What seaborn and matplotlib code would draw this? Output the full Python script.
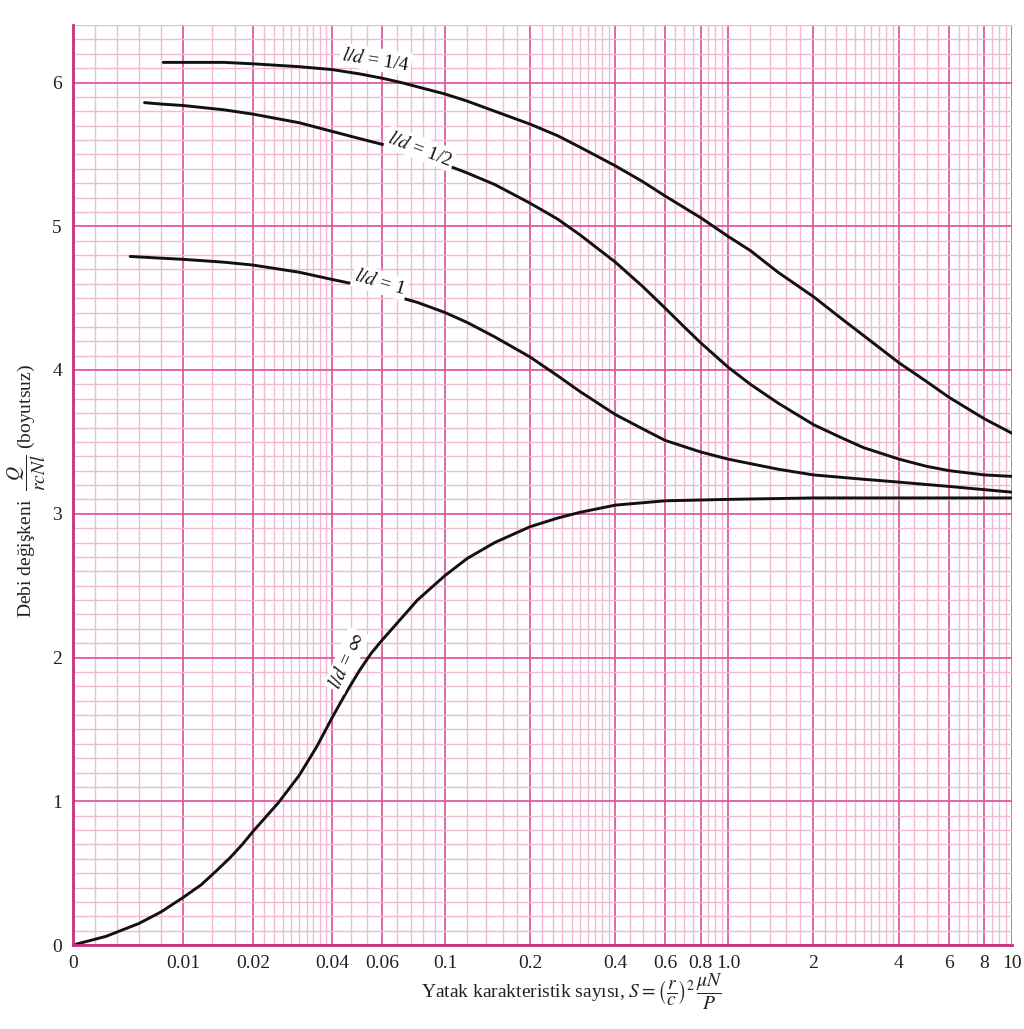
import matplotlib

matplotlib.use("Agg")

import numpy as np
import pandas as pd
import matplotlib.pyplot as plt
import seaborn as sns

# --- data: S (bearing characteristic number) vs Q/(rcNl) ---
s_quarter = [0.0082, 0.01, 0.015, 0.02, 0.03, 0.04, 0.05, 0.06, 0.07, 0.08, 0.1, 0.12, 0.15, 0.2, 0.25, 0.3,
             0.4, 0.5, 0.6, 0.8, 1.0, 1.2, 1.5, 2.0, 2.5, 3.0, 4.0, 5.0, 6.0, 8.0, 10.0]
q_quarter = [6.14, 6.14, 6.14, 6.13, 6.11, 6.09, 6.06, 6.03, 6.00, 5.97, 5.92, 5.87, 5.80, 5.71, 5.63, 5.55,
             5.42, 5.31, 5.21, 5.06, 4.93, 4.83, 4.68, 4.51, 4.36, 4.24, 4.05, 3.92, 3.81, 3.66, 3.56]

s_half = [0.0065, 0.008, 0.01, 0.015, 0.02, 0.03, 0.04, 0.05, 0.06, 0.08, 0.1, 0.12, 0.15, 0.2, 0.25, 0.3,
          0.4, 0.5, 0.6, 0.7, 0.8, 1.0, 1.2, 1.5, 2.0, 2.5, 3.0, 4.0, 5.0, 6.0, 8.0, 10.0]
q_half = [5.86, 5.85, 5.84, 5.81, 5.78, 5.72, 5.66, 5.61, 5.57, 5.50, 5.43, 5.37, 5.29, 5.16, 5.05, 4.94,
          4.75, 4.58, 4.43, 4.30, 4.19, 4.02, 3.90, 3.77, 3.62, 3.53, 3.46, 3.38, 3.33, 3.30, 3.27, 3.26]

s_one = [0.0052, 0.0075, 0.01, 0.015, 0.02, 0.03, 0.04, 0.05, 0.06, 0.08, 0.1, 0.12, 0.15, 0.2, 0.25, 0.3,
         0.4, 0.5, 0.6, 0.8, 1.0, 1.5, 2.0, 3.0, 4.0, 6.0, 10.0]
q_one = [4.79, 4.78, 4.77, 4.75, 4.73, 4.68, 4.63, 4.59, 4.54, 4.47, 4.40, 4.33, 4.23, 4.09, 3.96, 3.85,
         3.69, 3.59, 3.51, 3.43, 3.38, 3.31, 3.27, 3.24, 3.22, 3.19, 3.15]

s_inf = [0.0, 0.001, 0.002, 0.003, 0.004, 0.005, 0.006, 0.007, 0.008, 0.009, 0.01, 0.012, 0.014, 0.016,
         0.018, 0.02, 0.025, 0.03, 0.035, 0.04, 0.045, 0.05, 0.055, 0.06, 0.07, 0.08, 0.09, 0.1, 0.12,
         0.15, 0.2, 0.25, 0.3, 0.4, 0.6, 1.0, 2.0, 10.0]
q_inf = [0.0, 0.02, 0.04, 0.06, 0.09, 0.12, 0.15, 0.19, 0.23, 0.28, 0.33, 0.42, 0.52, 0.61,
         0.70, 0.79, 0.99, 1.18, 1.38, 1.58, 1.76, 1.91, 2.03, 2.12, 2.27, 2.40, 2.49, 2.57, 2.69,
         2.80, 2.91, 2.97, 3.01, 3.06, 3.09, 3.10, 3.11, 3.11]

x_major = [0, 0.01, 0.02, 0.04, 0.06, 0.1, 0.2, 0.4, 0.6, 0.8, 1.0, 2, 4, 6, 8, 10]
x_major_labels = ["0", "0.01", "0.02", "0.04", "0.06", "0.1", "0.2", "0.4", "0.6", "0.8", "1.0", "2", "4", "6", "8", "10"]

# The chart's S axis: linear from 0 to 0.01, then (distorted) logarithmic.
SCALE_S = np.log10([0.01, 0.02, 0.04, 0.1, 1.0, 10.0])
SCALE_P = np.array([110, 180, 259, 372, 655, 939]) / 939.0


def s_forward(s):
    s = np.asarray(s, dtype=float)
    lg = np.log10(np.clip(s, 1e-9, None))
    p = np.interp(lg, SCALE_S, SCALE_P)
    slope = (SCALE_P[-1] - SCALE_P[-2]) / (SCALE_S[-1] - SCALE_S[-2])
    p = np.where(lg > SCALE_S[-1], SCALE_P[-1] + (lg - SCALE_S[-1]) * slope, p)
    return np.where(s < 0.01, s / 0.01 * SCALE_P[0], p)


def s_inverse(p):
    p = np.asarray(p, dtype=float)
    lg = np.interp(p, SCALE_P, SCALE_S)
    slope = (SCALE_P[-1] - SCALE_P[-2]) / (SCALE_S[-1] - SCALE_S[-2])
    lg = np.where(p > SCALE_P[-1], SCALE_S[-1] + (p - SCALE_P[-1]) / slope, lg)
    return np.where(p < SCALE_P[0], p / SCALE_P[0] * 0.01, 10 ** lg)


def minor_ticks():
    parts = [
        np.arange(0.002, 0.0099, 0.002),
        [0.01333, 0.01667],
        np.arange(0.022, 0.0399, 0.002),
        [0.04667, 0.05333],
        [0.068, 0.076, 0.084, 0.092],
        np.arange(0.12, 0.399, 0.02),
        np.arange(0.45, 0.999, 0.05),
        np.arange(1.2, 3.99, 0.2),
        np.arange(4.5, 9.99, 0.5),
    ]
    return np.concatenate([np.asarray(p, dtype=float) for p in parts])


def main() -> None:
    sns.set_theme(style="white")
    plt.rcParams["font.family"] = ["Liberation Serif", "DejaVu Serif"]
    plt.rcParams["mathtext.fontset"] = "stix"

    major_c = "#de5b9e"
    minor_c = "#f2b9d3"
    spine_c = "#c8307f"

    fig = plt.figure(figsize=(10.24, 10.29), dpi=100)
    ax = fig.add_axes([73 / 1024, 1 - 945 / 1029, 939 / 1024, 920 / 1029])
    ax.set_xscale("function", functions=(s_forward, s_inverse))

    curves = pd.concat(
        [
            pd.DataFrame({"S": s_quarter, "Q": q_quarter, "ld": "1/4"}),
            pd.DataFrame({"S": s_half, "Q": q_half, "ld": "1/2"}),
            pd.DataFrame({"S": s_one, "Q": q_one, "ld": "1"}),
            pd.DataFrame({"S": s_inf, "Q": q_inf, "ld": "inf"}),
        ],
        ignore_index=True,
    )
    for _, grp in curves.groupby("ld", sort=False):
        line = sns.lineplot(data=grp, x="S", y="Q", color="#111111", linewidth=2.1,
                            estimator=None, sort=False, ax=ax)
    for ln in ax.get_lines():
        ln.set_solid_joinstyle("round")
        ln.set_solid_capstyle("round")

    ax.set_xlim(0, 10)
    ax.set_ylim(0, 6.4)

    ax.set_xticks(x_major)
    ax.set_xticklabels(x_major_labels)
    ax.set_xticks(minor_ticks(), minor=True)
    ax.set_yticks(np.arange(0, 7, 1))
    ax.set_yticks(np.arange(0.1, 6.45, 0.1), minor=True)
    ax.tick_params(which="both", length=0, labelsize=14, colors="#222222")
    ax.tick_params(axis="x", pad=7)
    ax.tick_params(axis="y", pad=8)

    ax.grid(which="minor", color=minor_c, linewidth=1.0)
    ax.grid(which="major", color=major_c, linewidth=1.3)
    ax.set_axisbelow(True)
    ax.axhline(6.4, color=minor_c, linewidth=1.2, zorder=0.5)

    for side in ("top", "right"):
        ax.spines[side].set_visible(False)
    for side in ("left", "bottom"):
        ax.spines[side].set_color(spine_c)
        ax.spines[side].set_linewidth(2.0)

    ax.set_xlabel("")
    ax.set_ylabel("")

    box = dict(facecolor="white", edgecolor="none", pad=1.5)
    lbl = dict(fontsize=14, ha="center", va="center", rotation_mode="anchor", bbox=box, color="#111111")
    ax.text(0.057, 6.16, r"$l/d$ = 1/4", rotation=-9, **lbl)
    ax.text(0.082, 5.54, r"$l/d$ = 1/2", rotation=-21, **lbl)
    ax.text(0.059, 4.61, r"$l/d$ = 1", rotation=-16, **lbl)
    ax.text(0.045, 1.98, r"$l/d$ = $\infty$", rotation=66, **lbl)

    fig.text(0.559, 1 - 992 / 1029,
             r"Yatak karakteristik sayısı, $S = \left(\dfrac{r}{c}\right)^{2}\,\dfrac{\mu N}{P}$",
             ha="center", va="center", fontsize=14, color="#222222")
    fig.text(0.026, 1 - 491 / 1029,
             r"Debi değişkeni  $\dfrac{Q}{rcNl}$ (boyutsuz)",
             ha="center", va="center", rotation=90, fontsize=14, color="#222222")

    fig.savefig("out.png", dpi=100)
    plt.close(fig)


if __name__ == "__main__":
    main()
